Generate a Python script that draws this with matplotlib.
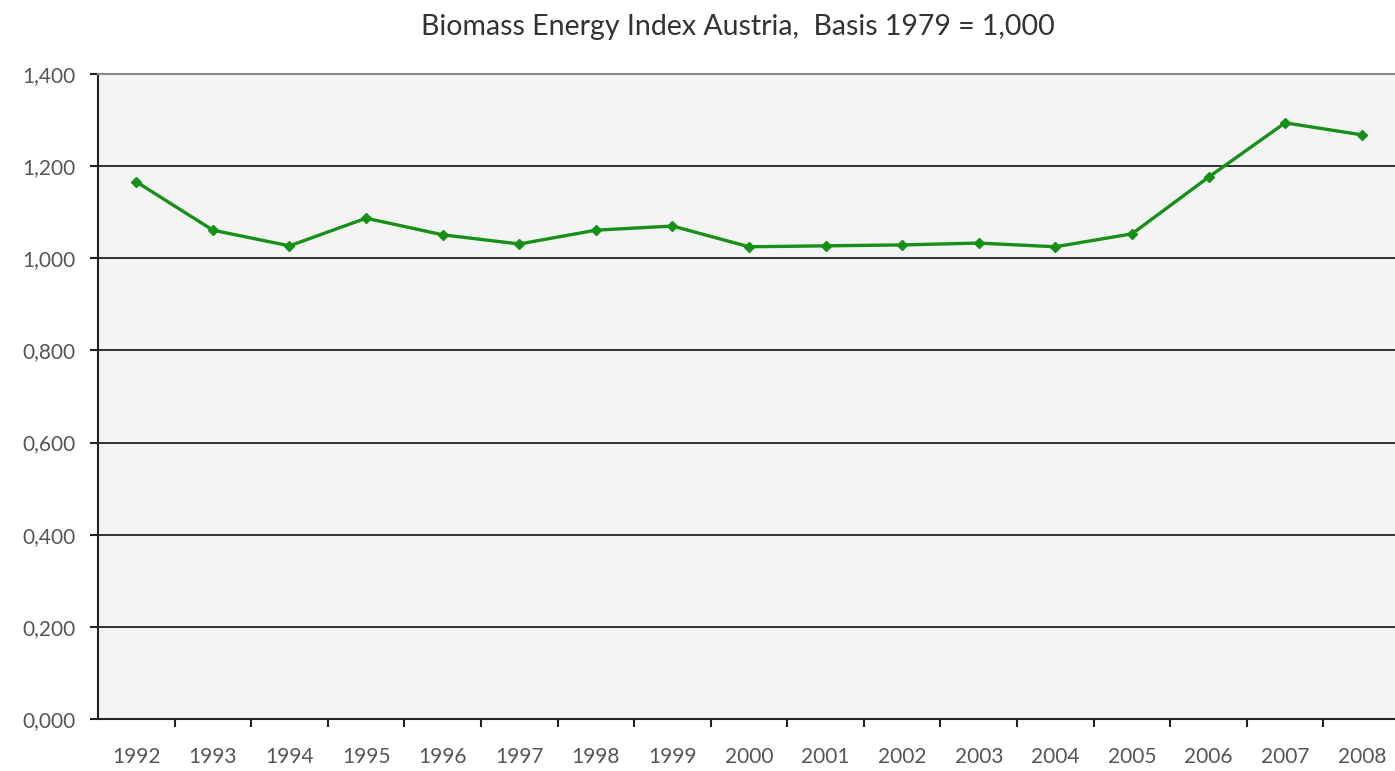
import matplotlib.pyplot as plt
import matplotlib.ticker as mticker

years = ['1992', '1993', '1994', '1995', '1996', '1997', '1998', '1999', '2000',
         '2001', '2002', '2003', '2004', '2005', '2006', '2007', '2008']
index = [1.166, 1.061, 1.027, 1.087, 1.051, 1.031, 1.061, 1.070, 1.025,
         1.027, 1.029, 1.033, 1.025, 1.053, 1.176, 1.294, 1.268]
yticks = [0.0, 0.2, 0.4, 0.6, 0.8, 1.0, 1.2, 1.4]

plt.rcParams['font.family'] = ['Lato', 'DejaVu Sans']

fig = plt.figure(figsize=(13.95, 7.71), dpi=100)
ax = fig.add_axes([98 / 1395, 52 / 771, 1302 / 1395, 645 / 771])
ax.set_facecolor('#f4f4f4')

x = list(range(len(years)))
ax.plot(x, index, color='#169016', linewidth=2.4, marker='D', markersize=5,
        zorder=3)

ax.set_xlim(-0.5, len(years) - 0.5)
ax.set_ylim(0, 1.4)
ax.set_yticks(yticks)
ax.yaxis.set_major_formatter(
    mticker.FuncFormatter(lambda v, p: ('%.3f' % v).replace('.', ',')))
for v in yticks[1:-1]:
    ax.axhline(v, color='#222222', linewidth=1.3, zorder=1)

ax.set_xticks(x)
ax.set_xticklabels(years)
ax.set_xticks([i + 0.5 for i in x[:-1]], minor=True)
ax.tick_params(axis='x', which='major', length=0, pad=20, labelsize=15,
               labelcolor='#555555')
ax.tick_params(axis='x', which='minor', length=6, width=1.5, color='#222222')
ax.tick_params(axis='y', length=6, width=1.5, color='#222222', pad=10,
               labelsize=15, labelcolor='#555555')

ax.spines['right'].set_visible(False)
ax.spines['top'].set_color('#888888')
ax.spines['top'].set_linewidth(1.5)
ax.spines['left'].set_color('#222222')
ax.spines['left'].set_linewidth(1.5)
ax.spines['bottom'].set_color('#222222')
ax.spines['bottom'].set_linewidth(1.5)

fig.text(738 / 1395, 1 - 27 / 771, 'Biomass Energy Index Austria,  Basis 1979 = 1,000',
         ha='center', va='center', fontsize=20.5, color='#333333')

fig.savefig('out.png', dpi=100)
